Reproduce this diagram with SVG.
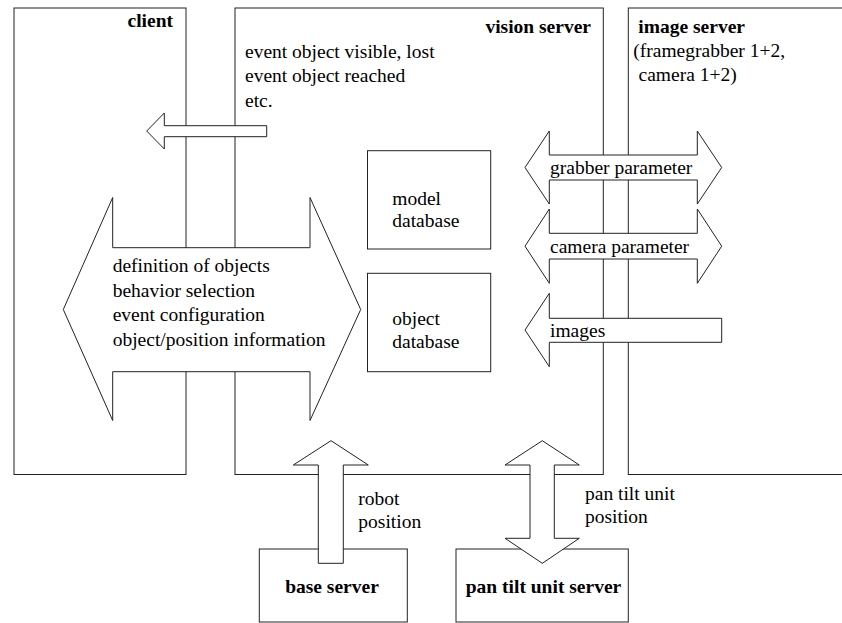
<svg xmlns="http://www.w3.org/2000/svg" width="842" height="623" viewBox="0 0 842 623">
  <style>
    .box { fill: #fff; stroke: #222; stroke-width: 1; }
    .arrow { fill: #fff; stroke: #222; stroke-width: 1; stroke-linejoin: miter; }
    text { font-family: 'Liberation Serif', 'Times New Roman', Times, 'DejaVu Serif', serif; font-size: 19.5px; fill: #000; }
    .title { font-weight: bold; }
  </style>
  <rect width="842" height="623" fill="#fff"/>

  <!-- servers -->
  <g id="client">
    <rect class="box" x="14" y="8" width="172" height="466.5"/>
    <text class="title" x="173" y="27" text-anchor="end">client</text>
  </g>
  <g id="vision-server">
    <rect class="box" x="235" y="8" width="368.3" height="466.5"/>
    <text class="title" x="591" y="32.5" text-anchor="end">vision server</text>
    <text x="245" y="57.5">event object visible, lost</text>
    <text x="245" y="82">event object reached</text>
    <text x="245" y="106.5">etc.</text>
  </g>
  <g id="image-server">
    <rect class="box" x="628.3" y="8" width="230" height="466.5"/>
    <text class="title" x="638.3" y="32.5">image server</text>
    <text x="633.3" y="56.7">(framegrabber 1+2,</text>
    <text x="638.5" y="80.5">camera 1+2)</text>
  </g>
  <g id="model-database">
    <rect class="box" x="367.5" y="150.7" width="123.2" height="98.3"/>
    <text x="392.3" y="205">model</text>
    <text x="392.3" y="227">database</text>
  </g>
  <g id="object-database">
    <rect class="box" x="367.5" y="273.3" width="123.2" height="98.4"/>
    <text x="392.3" y="325">object</text>
    <text x="392.3" y="347.5">database</text>
  </g>
  <g id="base-server">
    <rect class="box" x="259.3" y="549" width="148" height="73"/>
    <text class="title" x="332" y="592.7" text-anchor="middle">base server</text>
  </g>
  <g id="pan-tilt-unit-server">
    <rect class="box" x="456" y="549" width="172.3" height="73"/>
    <text class="title" x="543.5" y="592.7" text-anchor="middle">pan tilt unit server</text>
  </g>

  <!-- connectors: block arrows -->
  <g id="connectors">
    <path class="arrow" d="M266.7,125.7 L164.3,125.7 L164.3,113 L146.7,131 L164.3,149 L164.3,136.7 L266.7,136.7 Z"/>
    <path class="arrow" d="M112.7,247.7 L112.7,197.5 L63.3,309.5 L112.7,420.5 L112.7,371.7 L310,371.7 L310,420.5 L360.7,309.5 L310,197.5 L310,247.7 Z"/>
    <path class="arrow" d="M549.3,155 L549.3,131 L525,167.5 L549.3,204 L549.3,180 L697.3,180 L697.3,204 L721.7,167.5 L697.3,131 L697.3,155 Z"/>
    <path class="arrow" d="M549.3,233.3 L549.3,209 L525,246.2 L549.3,283.3 L549.3,259 L697.3,259 L697.3,283.3 L721.7,246.2 L697.3,209 L697.3,233.3 Z"/>
    <path class="arrow" d="M721.7,318.3 L549.3,318.3 L549.3,293.3 L525,330 L549.3,366.7 L549.3,342.3 L721.7,342.3 Z"/>
    <path class="arrow" d="M318.3,563.3 L318.3,465 L293.3,465 L331,440.7 L368.3,465 L343.3,465 L343.3,563.3 Z"/>
    <path class="arrow" d="M530,465 L505,465 L542.3,440.7 L579.3,465 L554.3,465 L554.3,538.3 L579.3,538.3 L542.3,563.3 L505,538.3 L530,538.3 Z"/>
    <text x="112.7" y="271.7">definition of objects</text>
    <text x="112.7" y="296.5">behavior selection</text>
    <text x="112.7" y="321">event configuration</text>
    <text x="112.7" y="345.7">object/position information</text>
    <text x="550" y="174">grabber parameter</text>
    <text x="550" y="253.3">camera parameter</text>
    <text x="550" y="336.7">images</text>
    <text x="358.3" y="505">robot</text>
    <text x="358.3" y="528.3">position</text>
    <text x="585" y="500">pan tilt unit</text>
    <text x="585" y="523.3">position</text>
  </g>
</svg>
